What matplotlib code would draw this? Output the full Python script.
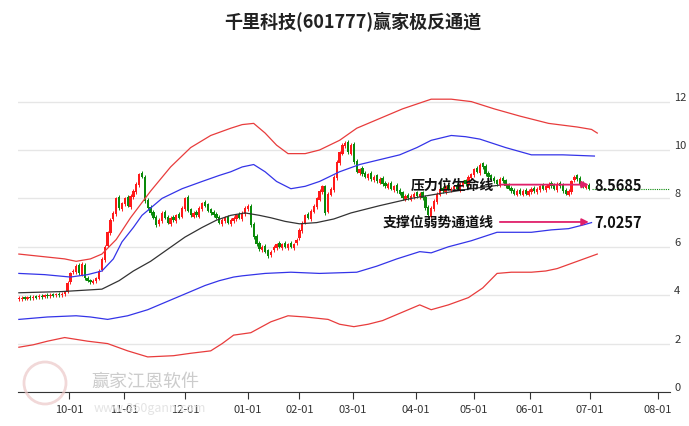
import matplotlib
matplotlib.use("Agg")
import matplotlib.pyplot as plt
from matplotlib.patches import Circle

plt.rcParams['font.family'] = ['Noto Sans CJK SC', 'DejaVu Sans']

title = "千里科技(601777)赢家极反通道"
closes = [3.85,3.87,3.86,3.90,3.88,3.92,3.90,3.95,3.93,3.97,3.96,4.00,3.98,4.03,4.00,4.05,4.12,4.50,4.90,5.00,
5.20,4.90,5.30,4.70,4.60,4.55,4.60,4.70,5.00,5.50,6.00,6.60,7.10,7.40,8.00,7.60,7.80,8.00,7.70,8.10,
8.30,8.60,9.00,8.90,7.90,7.60,7.40,7.20,6.90,7.10,7.40,7.20,7.00,7.20,7.10,7.30,7.20,7.60,8.00,7.50,
7.30,7.40,7.30,7.60,7.80,7.70,7.50,7.40,7.30,7.20,7.00,7.10,7.20,7.00,7.10,7.20,7.30,7.20,7.40,7.60,
7.70,6.90,6.40,6.10,5.90,6.00,5.80,5.60,5.80,6.00,6.10,6.00,6.10,6.00,6.10,6.00,6.10,6.30,6.70,7.00,
7.30,7.20,7.50,7.70,8.00,8.30,8.50,7.40,8.20,8.40,8.90,9.50,9.90,10.20,10.30,9.90,10.20,9.50,9.10,9.20,
9.00,8.90,9.00,8.80,8.90,8.70,8.80,8.60,8.50,8.60,8.40,8.50,8.30,8.20,8.00,8.10,8.00,8.10,8.20,8.10,
8.20,8.00,7.60,7.30,7.60,7.90,8.20,8.40,8.30,8.50,8.40,8.40,8.50,8.40,8.60,8.70,8.60,8.90,9.00,9.20,
9.10,9.40,9.30,9.00,8.90,8.80,8.70,8.60,8.80,8.70,8.50,8.40,8.30,8.20,8.30,8.20,8.30,8.20,8.30,8.40,
8.30,8.40,8.50,8.40,8.50,8.60,8.50,8.40,8.60,8.50,8.30,8.20,8.30,8.70,8.90,8.80,8.60,8.50,8.50,8.40]
opens = [3.83,3.84,3.88,3.86,3.91,3.89,3.93,3.91,3.96,3.94,3.98,3.97,4.01,3.99,4.04,4.01,4.04,4.15,4.55,4.95,
4.95,5.25,4.85,5.25,4.72,4.62,4.52,4.58,4.68,5.05,5.45,6.05,6.55,7.15,7.35,8.05,7.55,7.75,8.05,7.65,
8.05,8.25,8.55,9.05,8.90,7.95,7.65,7.45,7.25,6.95,7.05,7.45,7.25,6.95,7.25,7.05,7.35,7.25,7.55,8.05,
7.55,7.25,7.45,7.25,7.55,7.85,7.75,7.55,7.45,7.35,7.25,6.95,7.05,7.25,6.95,7.05,7.15,7.35,7.15,7.35,
7.55,7.70,6.95,6.45,6.15,5.85,6.05,5.85,5.65,5.85,5.95,6.15,5.95,6.15,5.95,6.15,5.95,6.15,6.35,6.65,
7.00,7.35,7.15,7.45,7.65,7.95,8.25,8.50,7.45,8.15,8.35,8.85,9.45,9.85,10.15,10.35,9.85,10.25,9.55,9.05,
9.25,9.05,8.85,9.05,8.75,8.95,8.65,8.85,8.65,8.45,8.65,8.35,8.55,8.35,8.25,7.95,8.15,7.95,8.05,8.25,
8.05,8.25,8.05,7.65,7.25,7.55,7.85,8.15,8.45,8.25,8.55,8.35,8.40,8.55,8.35,8.55,8.75,8.55,8.85,8.95,
9.25,9.05,9.45,9.35,9.05,8.95,8.85,8.75,8.55,8.85,8.75,8.55,8.45,8.35,8.15,8.35,8.15,8.35,8.15,8.25,
8.45,8.25,8.35,8.55,8.35,8.45,8.65,8.55,8.35,8.65,8.55,8.35,8.15,8.25,8.75,8.95,8.85,8.65,8.45,8.55]

red_up_i = [0,8,16,20,25,29,34,39,46,53,60,67,74,78,82,86,90,94,100,105,112,118,124,134,144,151,158,166,175,185,195,200,202]
red_up_v = [5.7,5.6,5.5,5.4,5.5,5.7,6.3,7.2,8.3,9.3,10.1,10.6,10.9,11.05,11.1,10.7,10.2,9.85,9.85,10.0,10.4,10.9,11.2,11.7,12.1,12.1,12.0,11.7,11.4,11.1,10.95,10.85,10.7]
blue_up_i = [0,9,18,24,29,33,36,40,43,47,50,57,64,70,74,78,82,86,90,95,100,105,112,119,126,133,139,144,151,156,161,170,179,190,201]
blue_up_v = [4.9,4.85,4.75,4.85,5.0,5.5,6.2,6.8,7.3,7.7,8.0,8.4,8.7,8.95,9.1,9.3,9.4,9.1,8.7,8.4,8.5,8.7,9.1,9.4,9.6,9.8,10.1,10.4,10.6,10.55,10.45,10.1,9.8,9.8,9.75]
mid_i = [0,15,29,35,40,46,52,58,64,69,74,79,84,88,93,98,104,110,116,126,137,147,158,168]
mid_v = [4.1,4.15,4.25,4.6,5.0,5.4,5.9,6.4,6.8,7.1,7.3,7.4,7.3,7.2,7.05,6.95,7.0,7.15,7.4,7.7,8.0,8.2,8.4,8.55]
blue_lo_i = [0,10,20,25,31,38,45,50,55,60,65,70,75,78,86,95,105,118,125,132,140,144,150,158,167,179,186,192,197,200]
blue_lo_v = [3.0,3.1,3.15,3.1,3.0,3.15,3.4,3.65,3.9,4.15,4.4,4.6,4.75,4.8,4.9,4.95,4.9,4.95,5.2,5.5,5.8,5.75,6.0,6.25,6.6,6.6,6.7,6.75,6.9,7.0]
red_lo_i = [0,5,10,16,24,31,38,45,54,60,67,71,75,81,88,94,100,108,112,117,122,127,134,140,144,150,157,162,167,172,179,184,188,195,202]
red_lo_v = [1.85,1.95,2.1,2.25,2.1,2.0,1.7,1.45,1.5,1.6,1.7,2.0,2.35,2.45,2.9,3.15,3.1,3.0,2.8,2.7,2.8,2.95,3.3,3.6,3.4,3.6,3.9,4.3,4.9,4.95,4.95,5.0,5.1,5.4,5.7]

tick_pos = [17.5,36.7,58,80,98,116.6,138.6,158.9,178.4,199.4,223.1]
tick_labels = ['10-01','11-01','12-01','01-01','02-01','03-01','04-01','05-01','06-01','07-01','08-01']
pressure = 8.5685
support = 7.0257
pressure_label = "压力位生命线"
support_label = "支撑位弱势通道线"

fig = plt.figure(figsize=(6.89, 4.27), dpi=100)
ax = fig.add_axes([18/689, 34/427, 652/689, 322/427])
ax.set_xlim(-0.3, 227.4)
ax.set_ylim(0, 322/24.2)
for s in ['top', 'right', 'left']:
    ax.spines[s].set_visible(False)
ax.spines['bottom'].set_color('#333333')
ax.set_yticks([0, 2, 4, 6, 8, 10, 12])
ax.yaxis.grid(True, color='#e6e6e6', lw=1)
ax.set_axisbelow(True)
ax.yaxis.tick_right()
ax.tick_params(axis='y', length=0, pad=3, labelsize=8, labelcolor='#333333')
for lab in ax.get_yticklabels():
    lab.set_verticalalignment('bottom')
ax.set_xticks(tick_pos)
ax.set_xticklabels(tick_labels)
ax.tick_params(axis='x', length=5, color='#333333', labelsize=8, labelcolor='#333333')

for i, (o, c) in enumerate(zip(opens, closes)):
    col = '#ff1a1a' if c >= o else '#0a8a0a'
    lo, hi = min(o, c), max(o, c)
    if hi - lo < 0.05:
        hi = lo + 0.05
    ax.bar(i, hi - lo, bottom=lo, width=0.8, color=col, lw=0)
    ax.vlines(i, lo - 0.07, hi + 0.07, color=col, lw=0.7)

ax.plot(red_up_i, red_up_v, color='#e83c3c', lw=0.9)
ax.plot(red_lo_i, red_lo_v, color='#e83c3c', lw=0.9)
ax.plot(blue_up_i, blue_up_v, color='#3434e8', lw=0.9)
ax.plot(blue_lo_i, blue_lo_v, color='#3434e8', lw=0.9)
ax.plot(mid_i, mid_v, color='#333333', lw=0.9)

ax.plot([200, 227.4], [closes[-1], closes[-1]], color='#0a8a0a', lw=0.8, ls=(0, (1, 1)))

for y, lab in [(pressure, pressure_label), (support, support_label)]:
    ax.annotate('', xy=(200, y), xytext=(167, y),
                arrowprops=dict(arrowstyle='-|>', color='#e0206a', lw=1.3, mutation_scale=10))
    ax.text(166, y, lab, ha='right', va='center', fontsize=10, fontweight='bold', color='#111111')
    ax.text(201, y, f'{y:.4f}', ha='left', va='center', fontsize=10.5, fontweight='bold', color='#111111')

fig.text(353/689, 1 - 22/427, title, ha='center', va='center', fontsize=13, fontweight='bold', color='#222222')

# watermark
circ = Circle((45, 43), 21, transform=None, fill=False, ec='#ecc8c8', lw=2, alpha=0.7)
fig.patches.append(circ)
fig.text(145/689, 45/427, "赢家江恩软件", ha='center', va='center', fontsize=13, color='#cccccc', zorder=0)
fig.text(150/689, 18/427, "www.360gann.com", ha='center', va='center', fontsize=9, color='#e4e4e4', zorder=0)

fig.savefig('out.png', dpi=100)
